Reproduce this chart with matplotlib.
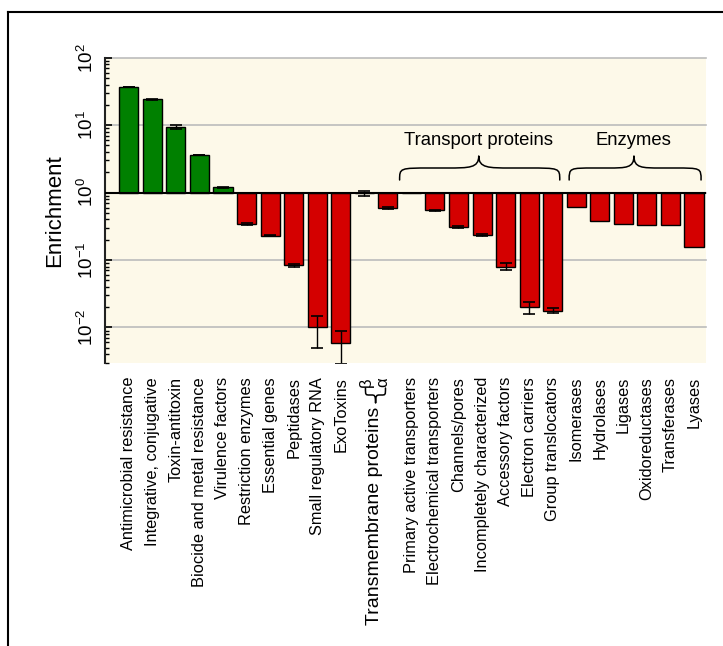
import matplotlib
matplotlib.use("Agg")
import matplotlib.pyplot as plt
import numpy as np
from matplotlib.path import Path
from matplotlib.patches import PathPatch
from matplotlib.transforms import blended_transform_factory
from matplotlib.lines import Line2D

plt.rcParams['font.family'] = ['Liberation Sans', 'DejaVu Sans']
plt.rcParams['mathtext.fontset'] = 'custom'
plt.rcParams['mathtext.rm'] = 'Liberation Sans'
plt.rcParams['mathtext.it'] = 'Liberation Sans'
plt.rcParams['mathtext.default'] = 'regular'

categories = ["Antimicrobial resistance", "Integrative, conjugative", "Toxin-antitoxin",
              "Biocide and metal resistance", "Virulence factors", "Restriction enzymes",
              "Essential genes", "Peptidases", "Small regulatory RNA", "ExoToxins",
              "β", "α",
              "Primary active transporters", "Electrochemical transporters", "Channels/pores",
              "Incompletely characterized", "Accessory factors", "Electron carriers",
              "Group translocators", "Isomerases", "Hydrolases", "Ligases",
              "Oxidoreductases", "Transferases", "Lyases"]
values = [36.6, 24.0, 9.5, 3.6, 1.2, 0.34, 0.23, 0.083, 0.010, 0.0059,
          0.97, 0.59,
          0.98, 0.55, 0.31, 0.235, 0.080, 0.020, 0.0178,
          0.61, 0.385, 0.347, 0.33, 0.33, 0.156]
errors = [0.3, 0.2, 0.6, 0.05, 0.02, 0.01, 0.003, 0.003, 0.005, 0.003,
          0.07, 0.02,
          0.005, 0.01, 0.01, 0.01, 0.009, 0.004, 0.0015,
          0.0, 0.0, 0.0, 0.0, 0.0, 0.0]
ytick_vals = [1e-2, 1e-1, 1e0, 1e1, 1e2]
ytick_labels = ["10$^{-2}$", "10$^{-1}$", "10$^{0}$", "10$^{1}$", "10$^{2}$"]

W, H = 723, 646
fig = plt.figure(figsize=(W/100, H/100), dpi=100)
ax = fig.add_axes([105/W, 1-363/H, (706-105)/W, (363-57.7)/H])
ax.set_facecolor('#fdf9e9')

x = np.arange(len(values))
vals = np.array(values)
colors = ['#008000' if v > 1 else '#d40000' for v in vals]
ax.bar(x, vals - 1, bottom=1, width=0.81, color=colors, edgecolor='black', linewidth=1.0, zorder=3)
mask = np.array(errors) > 0
ax.errorbar(x[mask], vals[mask], yerr=np.array(errors)[mask], fmt='none', ecolor='black',
            elinewidth=1.0, capsize=4, capthick=1.2, zorder=4)

ax.set_yscale('log')
ax.set_ylim(10**-2.527, 100)
ax.set_xlim(-1.01, len(values) - 0.49)
ax.axhline(1, color='black', lw=1.5, zorder=5)
for yv in ytick_vals:
    ax.axhline(yv, color='#bcbcbc', lw=1.2, zorder=1, clip_on=False)

for s in ['top', 'right', 'bottom']:
    ax.spines[s].set_visible(False)
ax.spines['left'].set_linewidth(1.5)
ax.spines['left'].set_color('#222222')

ax.set_yticks(ytick_vals)
ax.set_yticklabels(ytick_labels, rotation=90, va='center', fontsize=13.5)
ax.tick_params(axis='y', which='major', direction='in', length=5, width=1.2, pad=6)
ax.tick_params(axis='y', which='minor', direction='in', length=3, width=1.0)
ax.set_ylabel("Enrichment", fontsize=16, labelpad=8)

tick_labels = [c if i not in (10, 11) else '' for i, c in enumerate(categories)]
ax.set_xticks(x)
ax.set_xticklabels(tick_labels, rotation=90, fontsize=11.8, va='top', ha='center')
ax.tick_params(axis='x', length=0, pad=10)

bt = blended_transform_factory(ax.transData, ax.transAxes)

def brace(x0, x1, xc, yb, ym, yt):
    ql = (xc - x0) * 0.4
    qr = (x1 - xc) * 0.4
    verts = [(x0, yb), (x0, ym), (x0, ym), (x0 + ql, ym),
             (xc - ql, ym),
             (xc - ql * 0.3, ym), (xc, ym), (xc, yt),
             (xc, ym), (xc + qr * 0.3, ym), (xc + qr, ym),
             (x1 - qr, ym),
             (x1, ym), (x1, ym), (x1, yb)]
    codes = [Path.MOVETO, Path.CURVE4, Path.CURVE4, Path.CURVE4,
             Path.LINETO,
             Path.CURVE4, Path.CURVE4, Path.CURVE4,
             Path.CURVE4, Path.CURVE4, Path.CURVE4,
             Path.LINETO,
             Path.CURVE4, Path.CURVE4, Path.CURVE4]
    p = PathPatch(Path(verts, codes), transform=bt, fill=False, lw=1.1, edgecolor='black',
                  clip_on=False, zorder=6, snap=False, capstyle='round', joinstyle='round')
    ax.add_patch(p)

def fy(ypx):
    return (363 - ypx) / (363 - 57.7)

brace(11.5, 18.3, 14.86, fy(180), fy(168), fy(156))
brace(18.7, 24.3, 21.45, fy(180), fy(168), fy(156))
ax.text(14.86, fy(140), "Transport proteins", transform=bt, ha='center', va='center', fontsize=13.3)
ax.text(21.45, fy(140), "Enzymes", transform=bt, ha='center', va='center', fontsize=13.3)

# Transmembrane label group
brace(10.05, 10.9, 10.48, fy(388), fy(395), fy(403))
ax.text(10.1, fy(377), "β", transform=bt, rotation=90, ha='center', va='top', fontsize=12)
ax.text(10.8, fy(377), "α", transform=bt, rotation=90, ha='center', va='top', fontsize=12)
ax.text(10.45, fy(407), "Transmembrane proteins", transform=bt, rotation=90,
        ha='center', va='top', fontsize=14)

# figure frame lines
fig.add_artist(Line2D([8/W, 1], [1-12/H, 1-12/H], color='black', lw=1.5, transform=fig.transFigure))
fig.add_artist(Line2D([8/W, 8/W], [0, 1-12/H], color='black', lw=1.5, transform=fig.transFigure))

fig.savefig("out.png", dpi=100)
